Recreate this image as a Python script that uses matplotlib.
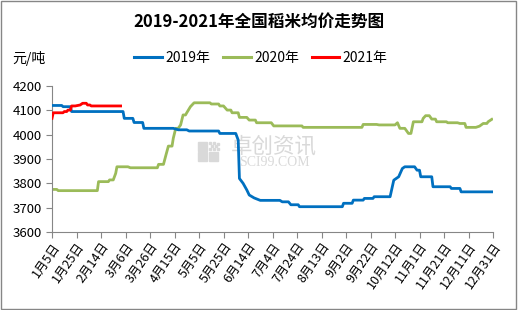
import matplotlib
matplotlib.use('Agg')
import matplotlib.pyplot as plt
from matplotlib.lines import Line2D
from matplotlib.patches import Rectangle

plt.rcParams['font.family'] = ['Noto Sans CJK SC', 'DejaVu Sans']

# 数据 (day of year, price)
days_2019 = [5, 13, 14, 20, 21, 63, 64, 71, 72, 79, 80, 104, 108, 115, 117, 141, 142, 155,
             157, 158, 161, 164, 166, 170, 175, 191, 193, 198, 200, 206, 207, 242, 243, 250,
             251, 259, 260, 267, 268, 281, 284, 288, 291, 293, 301, 303, 305, 306, 315, 316,
             330, 331, 338, 339, 364]
vals_2019 = [4120, 4120, 4115, 4115, 4095, 4095, 4067, 4067, 4050, 4050, 4026, 4026, 4020, 4020,
             4015, 4015, 4005, 4005, 3978, 3820, 3800, 3773, 3752, 3740, 3730, 3730, 3724, 3724,
             3712, 3712, 3704, 3704, 3718, 3718, 3731, 3731, 3738, 3738, 3745, 3745, 3813, 3827,
             3861, 3868, 3868, 3854, 3854, 3827, 3827, 3786, 3786, 3779, 3779, 3765, 3765]

days_2020 = [5, 9, 10, 42, 43, 51, 52, 55, 57, 58, 67, 69, 91, 92, 96, 98, 100, 103, 104, 106,
             108, 110, 112, 114, 115, 118, 121, 134, 135, 141, 142, 145, 148, 151, 152, 157, 158,
             164, 166, 171, 172, 184, 186, 209, 210, 258, 259, 270, 272, 285, 287, 289, 293, 296,
             298, 300, 307, 308, 310, 313, 315, 318, 319, 327, 328, 336, 338, 342, 343, 351, 354,
             357, 360, 361, 364]
vals_2020 = [3775, 3775, 3770, 3770, 3807, 3807, 3814, 3814, 3841, 3868, 3868, 3864, 3864, 3878,
             3878, 3916, 3953, 3953, 3985, 4026, 4026, 4040, 4081, 4081, 4090, 4115, 4131, 4131,
             4126, 4126, 4118, 4118, 4101, 4101, 4090, 4090, 4071, 4071, 4060, 4060, 4049, 4049,
             4036, 4036, 4030, 4030, 4042, 4042, 4040, 4040, 4049, 4026, 4026, 4005, 4005, 4053,
             4053, 4067, 4078, 4078, 4064, 4064, 4053, 4053, 4049, 4049, 4046, 4046, 4030, 4030,
             4035, 4046, 4046, 4053, 4063]

days_2021 = [5, 6, 14, 15, 17, 18, 20, 21, 24, 28, 30, 33, 34, 36, 37, 61]
vals_2021 = [4067, 4090, 4090, 4095, 4095, 4101, 4101, 4118, 4118, 4122, 4129, 4129, 4122, 4122,
             4118, 4118]

tick_days = list(range(5, 366, 20))
tick_labels = ['1月5日', '1月25日', '2月14日', '3月6日', '3月26日', '4月15日', '5月5日',
               '5月25日', '6月14日', '7月4日', '7月24日', '8月13日', '9月2日', '9月22日',
               '10月12日', '11月1日', '11月21日', '12月11日', '12月31日']

fig = plt.figure(figsize=(5.18, 3.10), dpi=100)
ax = fig.add_axes([52 / 518, 1 - 232 / 310, (493 - 52) / 518, (232 - 86) / 310])

c19, c20, c21 = '#0070C0', '#9BBB59', '#FF0000'
ax.plot(days_2019, vals_2019, color=c19, lw=2.0, zorder=3)
ax.plot(days_2020, vals_2020, color=c20, lw=2.0, zorder=2)
ax.plot(days_2021, vals_2021, color=c21, lw=2.0, zorder=4)

ax.set_xlim(5, 365)
ax.set_ylim(3600, 4200)
ax.set_yticks(range(3600, 4201, 100))
ax.set_xticks(tick_days)
ax.set_xticklabels(tick_labels, rotation=55, ha='right', va='top', rotation_mode='anchor',
                   fontsize=9)
ax.tick_params(axis='y', labelsize=9.5, length=4, color='#868686', pad=3)
ax.tick_params(axis='x', length=4, color='#868686', pad=2)
for s in ['top', 'right']:
    ax.spines[s].set_visible(False)
for s in ['left', 'bottom']:
    ax.spines[s].set_color('#868686')

# 水印
wm = '#d9d9d9'
for (x0, y0) in [(198, 142), (198, 152), (209, 152)]:
    fig.add_artist(Rectangle((x0 / 518, 1 - (y0 + 9) / 310), 9 / 518, 9 / 310,
                             transform=fig.transFigure, color=wm, zorder=0))
for (dx, dy) in [(0, 0), (4, 0), (2, 3), (6, 3), (0, 6), (4, 6), (8, 1), (8, 6)]:
    fig.add_artist(Rectangle(((209 + dx) / 518, 1 - (144 + dy) / 310), 2 / 518, 2 / 310,
                             transform=fig.transFigure, color=wm, zorder=0))
fig.text(274 / 518, 1 - 147 / 310, '卓创资讯', fontsize=15.5, color=wm, ha='center', va='center',
         zorder=0)
fig.text(274 / 518, 1 - 163 / 310, 'SCI99.COM', fontsize=10, color=wm, ha='center', va='center',
         family='Liberation Serif', zorder=0)
ax.set_zorder(1)
ax.patch.set_alpha(0)

fig.text(0.5, 1 - 22 / 310, '2019-2021年全国稻米均价走势图', ha='center', va='center',
         fontsize=12, fontweight='bold')
fig.text(12 / 518, 1 - 59 / 310, '元/吨', ha='left', va='center', fontsize=10)

handles = [Line2D([], [], color=c, lw=2.2) for c in (c19, c20, c21)]
fig.legend(handles, ['2019年', '2020年', '2021年'], ncol=3, loc='center',
           bbox_to_anchor=(261 / 518, 1 - 58 / 310), frameon=False, fontsize=10,
           handlelength=2.0, handletextpad=0.25, columnspacing=0.9)

fig.add_artist(Rectangle((0.002, 0.003), 0.995, 0.993, transform=fig.transFigure,
                         fill=False, edgecolor='#868686', lw=1.0))

fig.savefig('out.png', dpi=100)
